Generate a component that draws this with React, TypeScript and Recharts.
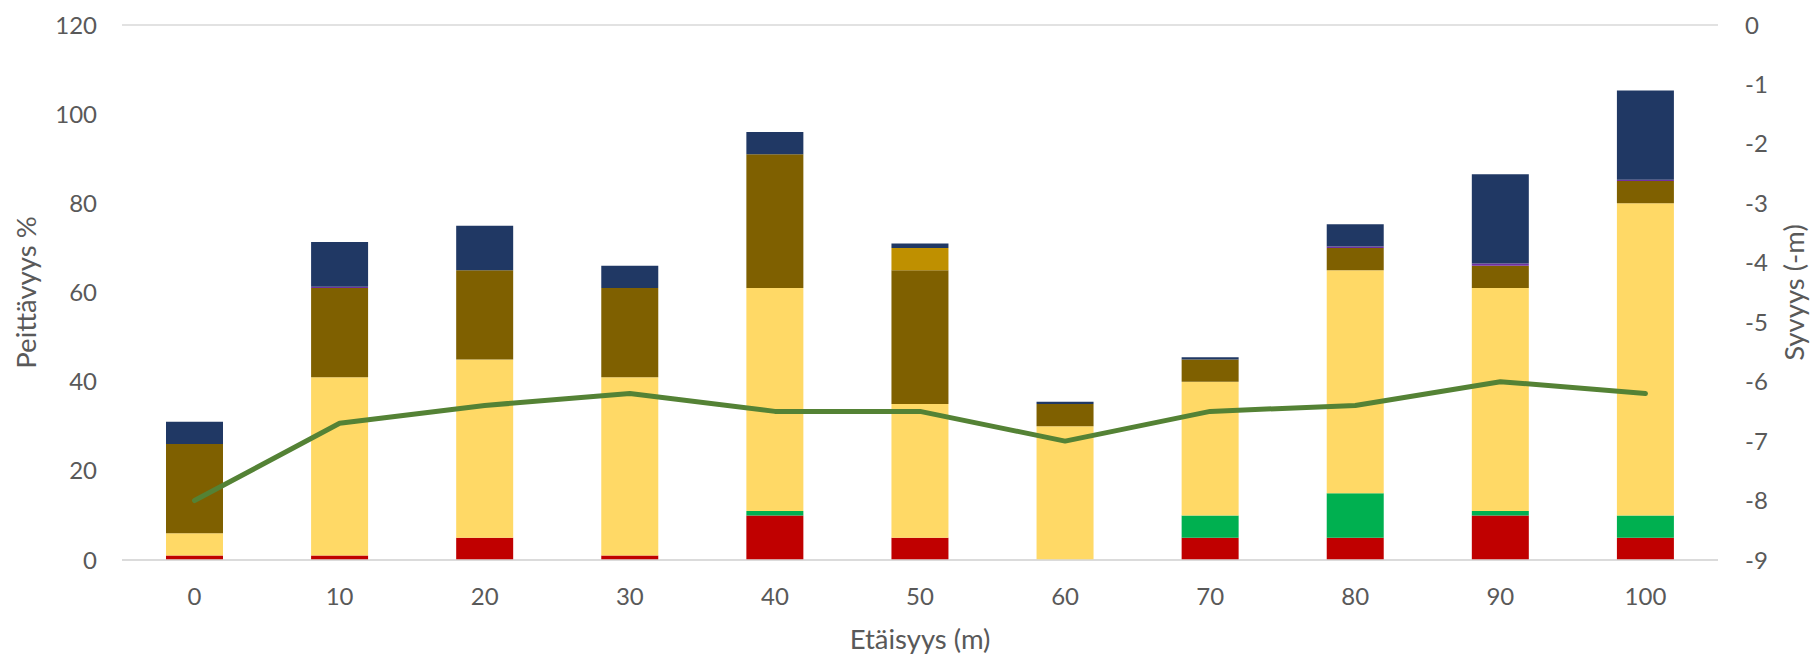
import React from "react";
import {
  ComposedChart,
  Bar,
  Line,
  XAxis,
  YAxis,
  CartesianGrid,
  Label,
} from "recharts";

const categories = [0, 10, 20, 30, 40, 50, 60, 70, 80, 90, 100];
const red = [1, 1, 5, 1, 10, 5, 0, 5, 5, 10, 5];
const green = [0, 0, 0, 0, 1, 0, 0, 5, 10, 1, 5];
const yellow = [5, 40, 40, 40, 50, 30, 30, 30, 50, 50, 70];
const brown = [20, 20, 20, 20, 30, 30, 5, 5, 5, 5, 5];
const gold = [0, 0, 0, 0, 0, 5, 0, 0, 0, 0, 0];
const purple = [0, 0.3, 0, 0, 0, 0, 0, 0, 0.3, 0.5, 0.3];
const navy = [5, 10, 10, 5, 5, 1, 0.5, 0.5, 5, 20, 20];
const depth = [-8, -6.7, -6.4, -6.2, -6.5, -6.5, -7, -6.5, -6.4, -6, -6.2];

const leftTicks = [0, 20, 40, 60, 80, 100, 120];
const rightTicks = [-9, -8, -7, -6, -5, -4, -3, -2, -1, 0];

const data = categories.map((c, i) => ({
  x: c,
  red: red[i],
  green: green[i],
  yellow: yellow[i],
  brown: brown[i],
  gold: gold[i],
  purple: purple[i],
  navy: navy[i],
  depth: depth[i],
}));

const FONT = 'Lato, "Open Sans", sans-serif';
const TXT = "#595959";
const TICK = 24;
const TITLE = 27.5;

const LeftTitle = (props: any) => {
  const vb = props.viewBox;
  const cx = vb.x + 25;
  const cy = vb.y + vb.height / 2;
  return (
    <text
      x={cx}
      y={cy}
      transform={`rotate(-90 ${cx} ${cy})`}
      textAnchor="middle"
      dominantBaseline="central"
      fill={TXT}
      fontSize={TITLE}
      fontFamily={FONT}
    >
      Peittävyys %
    </text>
  );
};

const RightTitle = (props: any) => {
  const vb = props.viewBox;
  const cx = vb.x + 75;
  const cy = vb.y + vb.height / 2;
  return (
    <text
      x={cx}
      y={cy}
      transform={`rotate(-90 ${cx} ${cy})`}
      textAnchor="middle"
      dominantBaseline="central"
      fill={TXT}
      fontSize={TITLE}
      fontFamily={FONT}
    >
      Syvyys (-m)
    </text>
  );
};

export default function App() {
  return (
    <div style={{ position: "absolute", left: 0, top: 0, background: "#fff" }}>
      <ComposedChart
        width={1815}
        height={659}
        data={data}
        margin={{ top: 25, right: 0, bottom: 0, left: 0 }}
        barCategoryGap={0}
      >
        <CartesianGrid vertical={false} stroke="#d9d9d9" strokeWidth={1.3} />
        <XAxis
          dataKey="x"
          type="category"
          height={99}
          tickLine={false}
          tickSize={0}
          tickMargin={28}
          axisLine={{ stroke: "#d9d9d9", strokeWidth: 1.3 }}
          tick={{ fill: TXT, fontSize: TICK, fontFamily: FONT }}
        >
          <Label
            value="Etäisyys (m)"
            position="insideBottom"
            offset={10}
            fill={TXT}
            fontSize={TITLE}
            fontFamily={FONT}
          />
        </XAxis>
        <YAxis
          yAxisId="left"
          orientation="left"
          width={122}
          domain={[0, 120]}
          ticks={leftTicks}
          tickLine={false}
          axisLine={false}
          tickSize={0}
          tickMargin={25}
          interval={0}
          tick={{ fill: TXT, fontSize: TICK, fontFamily: FONT }}
        >
          <Label content={LeftTitle} />
        </YAxis>
        <YAxis
          yAxisId="right"
          orientation="right"
          width={97}
          domain={[-9, 0]}
          ticks={rightTicks}
          tickLine={false}
          axisLine={false}
          tickSize={0}
          tickMargin={27}
          interval={0}
          tick={{ fill: TXT, fontSize: TICK, fontFamily: FONT }}
        >
          <Label content={RightTitle} />
        </YAxis>
        <Bar yAxisId="left" dataKey="red" stackId="a" fill="#C00000" barSize={57} isAnimationActive={false} />
        <Bar yAxisId="left" dataKey="green" stackId="a" fill="#00B050" barSize={57} isAnimationActive={false} />
        <Bar yAxisId="left" dataKey="yellow" stackId="a" fill="#FFD966" barSize={57} isAnimationActive={false} />
        <Bar yAxisId="left" dataKey="brown" stackId="a" fill="#7F6000" barSize={57} isAnimationActive={false} />
        <Bar yAxisId="left" dataKey="gold" stackId="a" fill="#BF9000" barSize={57} isAnimationActive={false} />
        <Bar yAxisId="left" dataKey="purple" stackId="a" fill="#7030A0" barSize={57} isAnimationActive={false} />
        <Bar yAxisId="left" dataKey="navy" stackId="a" fill="#203864" barSize={57} isAnimationActive={false} />
        <Line
          yAxisId="right"
          dataKey="depth"
          type="linear"
          stroke="#548235"
          strokeWidth={5}
          strokeLinecap="round"
          strokeLinejoin="round"
          dot={false}
          activeDot={false}
          isAnimationActive={false}
        />
      </ComposedChart>
    </div>
  );
}
